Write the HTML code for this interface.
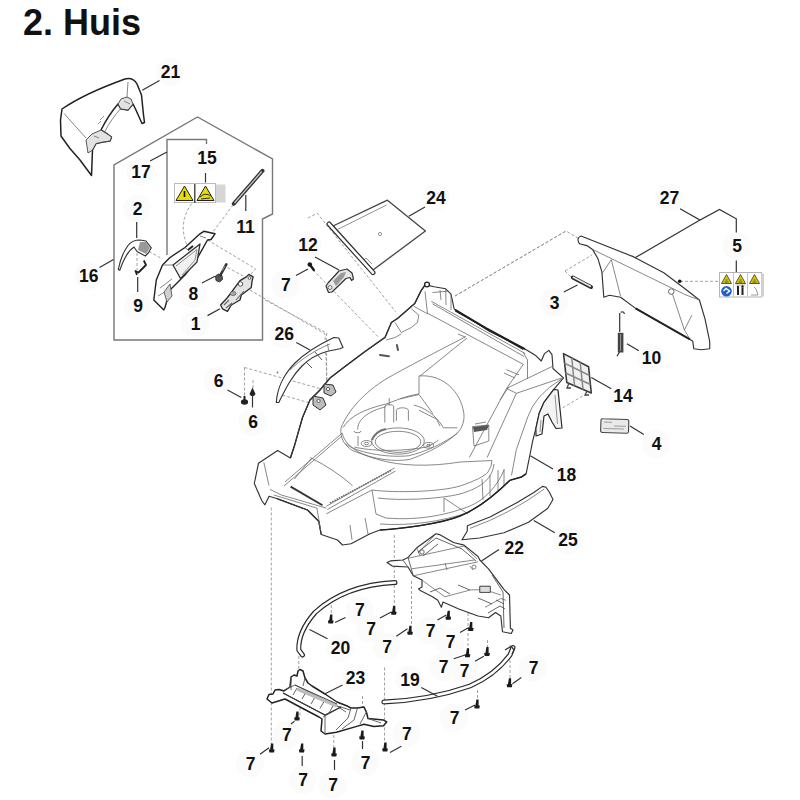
<!DOCTYPE html>
<html><head><meta charset="utf-8"><style>
html,body{margin:0;padding:0;background:#fff;width:800px;height:800px;overflow:hidden}
svg{position:absolute;left:0;top:0}
.o{fill:#fff;stroke:#333;stroke-width:1.15;stroke-linejoin:round}
.og{fill:#d2d2d2;stroke:#2a2a2a;stroke-width:1.2;stroke-linejoin:round}
.i{fill:none;stroke:#6a6a6a;stroke-width:.8}
.k{fill:none;stroke:#2a2a2a;stroke-width:1.3}
.d{fill:none;stroke:#8a8a8a;stroke-width:.8;stroke-dasharray:3 2}
.l{fill:none;stroke:#333;stroke-width:1.2}
.b{fill:none;stroke:#777;stroke-width:1.4}
.bg{fill:#fbfbfb}
text{font-family:"Liberation Sans",sans-serif;font-weight:bold;fill:#111}
.t{font-size:17.5px;text-anchor:middle}
</style></head><body>
<svg width="800" height="800" viewBox="0 0 800 800">
<text x="23" y="35" style="font-size:36px">2. Huis</text>

<!-- label backgrounds -->
<g id="lbg"><circle class="bg" cx="170" cy="72" r="14"/><circle class="bg" cx="206.5" cy="158" r="14"/><circle class="bg" cx="140.5" cy="172" r="14"/><circle class="bg" cx="435.6" cy="197.5" r="14"/><circle class="bg" cx="669" cy="197.5" r="14"/><circle class="bg" cx="137" cy="208.4" r="14"/><circle class="bg" cx="245" cy="226.5" r="14"/><circle class="bg" cx="307.5" cy="244.75" r="14"/><circle class="bg" cx="736.6" cy="246" r="14"/><circle class="bg" cx="88.25" cy="275.75" r="14"/><circle class="bg" cx="285.3" cy="284.3" r="14"/><circle class="bg" cx="192.9" cy="294" r="14"/><circle class="bg" cx="137.5" cy="306" r="14"/><circle class="bg" cx="554" cy="302.4" r="14"/><circle class="bg" cx="195" cy="323.75" r="14"/><circle class="bg" cx="283.75" cy="333.75" r="14"/><circle class="bg" cx="651" cy="358" r="14"/><circle class="bg" cx="218" cy="380.6" r="14"/><circle class="bg" cx="622.5" cy="396" r="14"/><circle class="bg" cx="252.5" cy="422" r="14"/><circle class="bg" cx="656" cy="444" r="14"/><circle class="bg" cx="566" cy="475" r="14"/><circle class="bg" cx="567.5" cy="540" r="14"/><circle class="bg" cx="513.75" cy="547.5" r="14"/><circle class="bg" cx="359.4" cy="610" r="14"/><circle class="bg" cx="370.6" cy="628.75" r="14"/><circle class="bg" cx="386.5" cy="646.5" r="14"/><circle class="bg" cx="430" cy="630.5" r="14"/><circle class="bg" cx="450" cy="642" r="14"/><circle class="bg" cx="340" cy="647.5" r="14"/><circle class="bg" cx="443" cy="667" r="14"/><circle class="bg" cx="464" cy="670.5" r="14"/><circle class="bg" cx="533" cy="668" r="14"/><circle class="bg" cx="355" cy="677.5" r="14"/><circle class="bg" cx="409.4" cy="679.4" r="14"/><circle class="bg" cx="454" cy="718" r="14"/><circle class="bg" cx="286.25" cy="735" r="14"/><circle class="bg" cx="406.25" cy="733.75" r="14"/><circle class="bg" cx="250" cy="763.75" r="14"/><circle class="bg" cx="365" cy="762.5" r="14"/><circle class="bg" cx="302.5" cy="780" r="14"/><circle class="bg" cx="332.5" cy="785" r="14"/></g>

<!-- box 16 -->
<path class="b" d="M114,340 V165 L197.5,117 L272.5,159 V214 L262.5,219 V340 Z"/>
<path class="b" d="M167,255 V139.5 H206.5 V144"/>
<path class="l" d="M150,161 L167,152"/>
<path class="l" d="M99.5,267.5 L113.5,259.5"/>
<path class="l" d="M136.7,222 V238 M137.7,277 V292 M201.9,283 L215,276.3 M207.5,315.6 L220,308.8 M205.5,173 V182.5 M245.8,195 V211"/>

<!-- 21 flap -->
<path class="o" d="M62,109 C78,98 100,88 125,79 Q133,77 137,84 L141.5,95 L143.5,115 L144.5,122.5 L142,123.5 L135.5,109 L133,104 L128,110 L121,109 L118,104 C112,111 106,120 101,130 L108,134.5 L111.5,137 L110,141 L103,142 L96,143.5 L92.5,150 L91.5,175.5 L80,160 L69.5,148 L61,136 L60.5,120 Z" style="stroke:#222;stroke-width:1.5"/>
<path d="M118,104 L121,99 L127,97 L131,99 L133,104 L128,110 L121,109 Z M86,140 L92,134 L101,130 L108,134.5 L111.5,137 L110,141 L103,142 L96,143.5 L92.5,150 L88,153 Z" fill="#e2e2e2" stroke="#444" stroke-width=".9"/>
<path class="i" d="M64,113.5 L86,138 M128,82 L127,97 M121,108 C115,115 109,123 104,133 M94,136 L99,138 M124,101 L130,104"/>
<path d="M100,120 L104,116 M98,124 L101,121" stroke="#777" stroke-width=".8"/>
<path class="l" d="M142.3,90.3 L159.5,80.5"/>
<!-- 15 sticker -->
<rect x="174.5" y="183.5" width="41" height="19" fill="#fff" stroke="#bbb" stroke-width="1"/>
<rect x="216" y="184.5" width="9.5" height="18" fill="#d6d6d6"/>
<path d="M176,200.5 L193,200.5 L184.5,186 Z M197,200.5 L214,200.5 L205.5,186 Z" fill="#e8dc00" stroke="#222" stroke-width="1"/>
<path d="M184.5,191 V197" stroke="#111" stroke-width="1.6"/>
<path d="M194.8,184 V203" stroke="#333" stroke-width="1.3"/>
<path d="M200,197 Q205,192 211,196 M201,199 L210,198" stroke="#333" stroke-width="1" fill="none"/>

<!-- 11 rod -->
<path d="M233.8,203.8 L262.5,170.8" stroke="#333" stroke-width="4" stroke-linecap="round"/>
<path d="M234.5,203 L261.8,171.5" stroke="#ccc" stroke-width="1.2"/>

<!-- dashed in box -->
<path class="d" d="M191.8,203.5 Q178,222 186.5,244 M213.5,231.3 L233,205 M207.5,240 L255.6,268.8 L251,274 M227.5,267.5 L245,277 M149,251.5 L162.5,259 M250,290 L325,334 L327,382 M137,253 V270"/>

<!-- 2 -->
<path class="o" d="M118.3,269.5 Q121,255 128,245.5 Q132,240 140,240 L146,241 L151.3,247.8 L148.3,253 L145.3,256 L137,251.5 L134,247 Q126,252 119.8,270.3 Z"/>
<path d="M140,242 L146,242 L150,248 L146,254 L138,250 Z" fill="#999"/>
<!-- 9 -->
<path d="M143.8,260.5 L146,265 L138.5,272.5 L135.5,271 L137,274.8" fill="none" stroke="#222" stroke-width="1.8" stroke-linejoin="round"/>

<!-- 17 part -->
<path class="o" d="M203.8,231.3 L215,233.8 L211,239.5 L207.5,240 L196.3,260 L185,275 L170,290 L165,307.5 L163.8,310 L153.8,300 L156.3,280 L162.5,265 L170,257.5 L185,247.5 L200,233.8 Z" style="stroke:#222;stroke-width:1.4"/>
<path d="M173,265 L200,244 L197,262 L180.5,278.5 Z" fill="#f2f2f2" stroke="#333" stroke-width="1.3" stroke-linejoin="round"/>
<path d="M176,266 L197,249.5 L195,260 L182,275" fill="none" stroke="#777" stroke-width=".8"/>
<path class="i" d="M160,288 L172,279 M158,296 L168,290 L166,303 M200,236 L206,238 M185,247.5 L190,252 M162.5,265 L173,265"/>
<path d="M164,292 L170,284 L172,296 L167,302 Z" fill="#cfcfcf" stroke="#444" stroke-width=".8"/>
<path d="M188,250 L193,246" stroke="#222" stroke-width="2"/>
<!-- 8 -->
<path d="M215.5,276 L218.5,274 L222,275.5 L222.5,279.5 L219.5,282 L216,280.5 Z" fill="#555" stroke="#222" stroke-width=".8"/>
<path d="M226.3,264.4 L220.5,275" stroke="#333" stroke-width="2.6" stroke-linecap="round"/>
<path d="M225,266 L222,271" stroke="#aaa" stroke-width=".8"/>

<!-- 1 -->
<path d="M220.6,305 L227.5,297.5 L240,280.6 L246.3,276.9 L248.8,274.4 L253.1,276.9 L251.9,281.9 L251.3,287.5 L246.3,291.3 L241.3,295 L240,300 L231.3,305 L227.5,311.3 L222.5,308.8 Z" fill="#e4e4e4" stroke="#2a2a2a" stroke-width="1.3" stroke-linejoin="round"/>
<circle cx="240.5" cy="284" r="2.2" fill="#fff" stroke="#444" stroke-width=".9"/>
<circle cx="249.5" cy="278" r="1.4" fill="#fff" stroke="#444" stroke-width=".8"/>
<ellipse cx="233" cy="293.5" rx="3" ry="2" fill="#aaa" stroke="#555" stroke-width=".7"/>
<path d="M224,305 L229,300 M236,300 L244,291 M226,308 L232,303" stroke="#666" stroke-width="1.1" fill="none"/>

<!-- 24 plate -->
<path class="d" d="M307.8,218 L317.3,213.3 L395.7,311.8 M313,270 L378.6,337.4"/>
<path d="M333,226 L387.4,200.2 L425.4,231 L373,270 Z" fill="#fff" stroke="#444" stroke-width="1.3" stroke-linejoin="round"/>
<path d="M337.5,229.5 L386.5,205 M372,264 L366,258 L362,262" fill="none" stroke="#777" stroke-width=".8"/>
<circle cx="380" cy="234" r="1.6" fill="none" stroke="#888" stroke-width=".9"/>
<path d="M329,224 L373,272.6" stroke="#333" stroke-width="5" stroke-linecap="round"/>
<path d="M329,224 L373,272.6" stroke="#fff" stroke-width="2.6" stroke-linecap="round"/>
<path class="l" d="M425,207 L408.8,216.3"/>
<!-- 12 -->
<path d="M326,286 L328,283 L339,271 L347,269 L352,273 L353.5,279 L351.5,280.5 L350,277.5 L346,278.5 L332,292 L328.5,292.5 Z" fill="#e8e8e8" stroke="#333" stroke-width="1.2" stroke-linejoin="round"/><path d="M333,281 L341,273 L346,272 L344,277 L336,286 Z" fill="#999"/>

<circle cx="330" cy="287.5" r="2" fill="none" stroke="#555" stroke-width=".8"/>
<path d="M310.5,265.5 L313.8,270" stroke="#1a1a1a" stroke-width="2.4" stroke-linecap="round"/><circle cx="309.8" cy="264.5" r="2.3" fill="#1a1a1a"/>
<path class="l" d="M315,257 L339,270 M296,275.5 L308,269"/>

<!-- 27 panel -->
<path class="d" d="M455,296 L566,231 L578,238 M565,271 L592,255 M565,271 L572,278 M680,281.3 L718,281.3 M582.5,396 L561,408.8"/>
<path class="o" d="M579.4,243.8 Q576,238 581,236 L633.8,256.9 L663.8,272.8 L686.3,289.7 L699.4,300 L705,318.8 L709.7,341.3 L709.7,348.8 L701.3,349.7 L693.8,348.8 L692.8,341.3 L690,339.4 L635.6,308.4 L620.6,297.2 L609.4,295.3 L603.8,297.2 L601.9,271.9 L598,258.8 L592.5,249.4 L586.9,245.6 Z"/>
<path class="i" d="M592.5,249.4 L686,295 L699.4,300 M611.3,259.7 L620.6,296.3 M601.9,273.8 L611.3,259.7 M671.3,290.6 L684.4,330 L691.9,315 M684.4,330 L690,339.4"/>
<path d="M635.6,308.4 L690,339.4" stroke="#222" stroke-width="1.8"/>
<circle cx="671.3" cy="291.6" r="2.8" fill="#fff" stroke="#555" stroke-width=".9"/>
<circle cx="679.7" cy="281.3" r="1.8" fill="#111"/>
<path class="l" d="M680,208.8 L700,220 L719.5,209.5 L736.3,218.8 V232.5 M700,220 L635,257.8"/>
<path class="l" d="M736.3,260.5 V272.5"/>
<!-- 5 sticker -->
<rect x="719.5" y="272.5" width="42" height="24.5" fill="#fff" stroke="#b8b0b8" stroke-width="1"/>
<rect x="761" y="273.5" width="3" height="23" fill="#d0d0d0"/>
<path d="M733.5,273 V296.5 M747.5,273 V296.5" stroke="#bbb" stroke-width=".9"/>
<path d="M721.5,283.5 L731.5,283.5 L726.5,274.5 Z M735.5,283.5 L745.5,283.5 L740.5,274.5 Z M749.5,283.5 L759.5,283.5 L754.5,274.5 Z" fill="#d8cc00" stroke="#333" stroke-width=".8"/>
<path d="M725.5,280 h2 M739.5,280 h2 M753.5,280 h2 M724.5,282 h4 M738.5,282 h4 M752.5,282 h4" stroke="#555" stroke-width="1"/>
<path d="M735.5,285 h10" stroke="#888" stroke-width=".6"/>
<circle cx="726.5" cy="291.3" r="5.3" fill="#1f5fd0"/>
<path d="M723.5,291 L726,288.5 L729.5,291 L726.5,293.5" stroke="#fff" stroke-width="1.4" fill="none"/>
<path d="M738,288 V295 M742.5,287.5 V295" stroke="#222" stroke-width="2"/>
<circle cx="738" cy="287" r="1.2" fill="#222"/><circle cx="742.5" cy="286.5" r="1.2" fill="#222"/>
<path d="M751,295 L758,295 L756,289 L754,287" stroke="#999" stroke-width="1" fill="none"/>
<!-- 3 pin -->
<path d="M572.8,277.5 L591,287" stroke="#2a2a2a" stroke-width="4" stroke-linecap="round"/>
<path d="M573.3,277.3 L590.3,286.3" stroke="#e8e8e8" stroke-width="1.6" stroke-linecap="round"/>
<path class="l" d="M563.8,292 L577.5,285"/>
<!-- 10 spring -->
<path d="M620.6,312.2 Q624,311 624.4,314 M619.7,313 V332 M619.5,352 L617,356.3" stroke="#333" stroke-width="1.2" fill="none"/>
<rect x="617.8" y="332.8" width="5.6" height="19.7" fill="#444"/>
<path d="M620.6,334 V351" stroke="#999" stroke-width="1"/>
<path class="l" d="M627,343.8 L638.8,350.8"/>
<!-- 14 grill -->
<path d="M563.5,353.6 L588.6,366.8 L591.3,393 L566.8,382.5 Z" fill="#f0f0f0" stroke="#3a3a3a" stroke-width="1.6" stroke-linejoin="round"/>
<path d="M571.8,358 L574.5,385.7 M580.2,362.3 L583,389.3 M564.5,363.2 L589.5,375.5 M565.6,373 L590.5,384.5" stroke="#888" stroke-width="1.5"/>
<path d="M569,383 L567,388 L571,388 M587,391 L585,395 L589,395" stroke="#444" stroke-width="1.3" fill="none"/>
<path class="l" d="M591.3,377.5 L611.3,388.8"/>
<!-- 4 tag -->
<path d="M601,420 Q601,418.5 603,418.7 L627,419.5 Q629,419.7 628.8,421.5 L628.5,431.5 Q628.4,433.3 626.5,433.2 L602.5,432.5 Q600.5,432.4 600.6,430.5 Z" fill="#e9e9e9" stroke="#444" stroke-width="1.1"/>
<path d="M604,422 L612,422.4 M603.5,428.5 L624,429 M614,426 L626,426.3" stroke="#888" stroke-width=".8"/>
<path class="l" d="M630,426 L643.8,434.5"/>

<!-- 18 housing -->
<path class="d" d="M455,296 L566,231 M271.3,507.5 V752 M331.3,600 V613 M394.3,535 V605 M411.5,581 V626 M298.8,656 V670 M300,707.5 V717.5 M333.8,715 V748 M362.5,696 V707.5 M384.5,667.5 V745 M468,608 V650 M487.5,640 V652 M510,645 V680 M477.5,690 V702 M244.5,367.5 V398.8 M244.5,367.5 L325,390 M277.5,393.8 L310,403 M253,380 V388 M265,300 L326.6,333 V384"/>
<path class="o" d="M425.4,284.6 L434,286.7 L445.7,288.8 L451,294.1 L454.2,309 L489.3,331.3 L523.3,348.3 L527.5,350.4 L536,355.8 L541.3,361 L544.5,353.6 L548.8,350.4 L552,354.7 L553,368.5 L563.5,377.9 L553.8,389.3 L544,402.3 L539.1,413.6 L535.9,428.3 L532.6,441.3 L529.4,457.5 L526.1,473.8 L521.3,477 L509.9,480.3 C500,490 480,508 460,516 C440,524 400,529 380,530 L370,533.8 L351,543.8 L342.5,545 L337.5,540 L321.2,534.5 L318.8,521.3 L307.5,510 L277.5,498.8 L269.1,496.3 L264.9,504.8 L261.7,500.5 L254.3,483.5 L258.5,463.3 L277.6,450.6 L290.4,458 L294.6,445.3 L297.5,435 L302.5,417.5 L310,400 L320,390 L330,378 L345,366.5 L364,352.3 L385,337.4 L391.4,322.5 L397.8,318.3 L414.8,303.4 L421.1,290.6 Z"/>
<path d="M290.4,458 L294.6,445.3 L297.5,435 L302.5,417.5 L310,400 L320,390 L330,378 L345,366.5 L364,352.3 L385,337.4 L391.4,322.5 L397.8,318.3 L414.8,303.4 L421.1,290.6 L425.4,284.3 M277.5,498.8 L307.5,510 L318.8,521.3 L321.2,534.5" fill="none" stroke="#333" stroke-width="1.3" stroke-linejoin="round"/>
<path d="M455.1,309.8 L486,328 L525,349" fill="none" stroke="#1a1a1a" stroke-width="1.7"/>
<g class="i">
<path d="M431.3,301.3 L525.4,353.6 M432.5,303.8 L524,356.5 M427.6,313.3 L523.3,364.3 M445.7,289 L446,305 M451,294 L451,310 M523.3,352.6 L527.5,360 V379"/>
<path d="M411.3,308.8 L418.8,315 L417.5,322.5 L411.3,327.5 L401.3,332.5 L395,322.5 M386.3,340 L395,337.5 L401.3,333.8 M413.8,306.3 L427.5,313.8 M425,291.3 L427.5,313.8 M467,338 L420,376 M432.5,292.5 L447.5,291.3 M440,290 L441,300"/>
<path d="M506.6,388.4 L552.1,366.5 M516.4,393.3 L561.9,377.9 M506.6,388.4 L516.4,393.3 M506.6,388.4 L469.3,457.5 M516.4,393.3 L487.1,457.5 M523.3,364.3 L506.6,388.4 M499.9,400 L508.4,387.6"/>
<path d="M561.9,378.7 Q535,395 527.8,416.9 L516.4,449.4 L511.5,475.4"/>

<path d="M341,428 C340,438 344,445 352.5,450.5 C375,460 395,462 410.3,459.3 C430,452 445,444 457.5,433 C462,428 466,420 463,408.8 C458,388 440,374 419,376 V394 C405,396 395,401 386,404 C365,409 350,416 343,427.5"/>
<path d="M345.5,443.5 C355,452 385,458 408.5,455.8 C425,452 445,443 457.5,433"/>
<path d="M357.8,429.5 C357,420 368,411 385.8,406.8 M413.8,405 C425,408 435,414 443.5,427.8 L457.5,427.8 M354.3,447 C370,451 400,452 426,447 C432,445 436,442 438.3,440"/>
<ellipse cx="398" cy="441.8" rx="22.8" ry="10.5"/>
<ellipse cx="398" cy="441" rx="26.3" ry="13.1"/>
<path d="M372,440 C374,434 380,430 386,429" stroke-width="2.2" stroke="#777"/>
<path d="M384.8,422.5 V406.8 M393.7,422.5 V406.8 M384.8,406.8 A4.4,2 0 0 1 393.7,406.8 M396.4,420.8 V410.3 M408.4,420.8 V410.3 M396.4,410.3 A6,2.5 0 0 1 408.4,410.3 M389.2,405 V398 M399.8,398.9 L419,394.5 L433,413.8 M419,410.3 L436.5,419 L440,426"/>
<ellipse cx="366.5" cy="443.5" rx="5.3" ry="3"/><ellipse cx="366.5" cy="443.5" rx="2.2" ry="1.2"/>
<path d="M358,436 V446 M361,431 A3,1.5 0 0 1 354,431"/>
<ellipse cx="428.6" cy="445.3" rx="5" ry="2.8"/><ellipse cx="428.6" cy="445.3" rx="2" ry="1"/>
<path d="M466,336.5 C440,350 405,368 386,379 C365,392 348,410 341,428"/>
<path d="M472.5,426.6 L488.8,425 L488.8,441 L474,446 Z M475,424 L486,422"/>
<path d="M285,481.9 L342.2,433.1 M284,486 L341.3,436.5 M326.3,506.3 L394.7,467.8 M327.3,509.5 L395.5,471"/>
<path d="M310.3,457.5 Q335,470 352.5,485.6 M294.4,479 L311.3,458.4"/>
<path d="M342.2,433.1 C345,446 360,455 380,460 C400,466 430,467 460,462 L492,460.5"/>
<path d="M270,489.4 L281.3,495 L326.3,508.1 M326.3,513.8 L372,490 C395,493 440,492 460,486 C475,481 485,476 488,472 Q492,466 492,460.5 M378,498 C400,501 440,499 460,494 C480,488 492,480 494,464 M372,490 L376,514 L386,518 C420,521 450,514 470,506 C485,500 498,485 504,470 M380,524 C410,526 440,522 470,512"/>
<path d="M498,470 V492 M504,469 V486 M444,498 L468,514 M444,498 V512"/>
<path d="M263.8,462.3 L269,485.6 M273.8,495 L316.9,508.1 L320.6,530"/>
<path d="M350,525 L352,540 M365,518 L368,534 M482,479 L483,500 M490,475 L490,496"/>
<path d="M465,337 L458,334 M506.3,369.6 L519,374.9 M504,373 L515,378"/>

</g>
<path d="M290.6,486.6 L322.5,505.3" fill="none" stroke="#333" stroke-width="1.8"/>
<path d="M330,503 L392,470" fill="none" stroke="#666" stroke-width="1.5" stroke-dasharray="1.5 1"/>
<path d="M455.3,311.1 L523.3,349.4" fill="none" stroke="#222" stroke-width="1.2"/>
<circle cx="427" cy="284.5" r="2.4" fill="#fff" stroke="#222" stroke-width="1.3"/>
<path d="M396.9,345 L398,350 M380,355 L388.8,356.3" stroke="#555" stroke-width="2" stroke-linecap="round"/>
<path d="M380,530 C400,529 440,524 460,516 C480,508 500,490 509.9,480.3 L521.3,477 L526.1,473.8" fill="none" stroke="#222" stroke-width="1.4"/>
<path class="l" d="M530.3,455.8 L553,468.9"/>
<path d="M553.8,389.3 L558,390 L562,428 L556,428.5 L552,422 L548,414 L544,416 L542,434 L536,436 L535.9,428.3 L539.1,413.6 L544,402.3 Z" fill="#f4f4f4" stroke="#2a2a2a" stroke-width="1.2" stroke-linejoin="round"/>
<path d="M555,395 L557.5,424 M541,420 L540,432" stroke="#777" stroke-width=".8" fill="none"/>
<path d="M473,427 L489,425 L487,430 L474,432 Z" fill="#555"/>
<path d="M324,384 L333,385 L336,392 L331,396 L324,393 Z M313,396 L323,398 L326,405 L320,410 L313,405 Z" fill="#bdbdbd" stroke="#333" stroke-width="1"/>
<circle cx="328" cy="389" r="1.6" fill="#fff" stroke="#333" stroke-width=".7"/><circle cx="318.5" cy="401" r="1.6" fill="#fff" stroke="#333" stroke-width=".7"/>
<!-- 6 screws -->
<ellipse cx="244.5" cy="402" rx="3.6" ry="2.8" fill="#222"/><path d="M243.5,396 h2 v4 h-2 Z" fill="#222"/>
<path d="M249.5,394 L252.5,387.5 L255.5,394 L254,396 L251,396 Z" fill="#222"/>
<path d="M252.5,394 V407.5" stroke="#333" stroke-width="1.2"/>
<path class="l" d="M227.5,390 L241.3,397.5"/>
<!-- 26 strip -->
<path class="o" d="M276.3,402.5 C277,390 283,375 295,363 C305,353 318,345 333.8,337.5 L338.8,338 L343,347.5 L340,348.8 L327.5,351.3 C318,354 310,358 302,366 C292,376 286,388 280,400 L278.8,402.5 Z"/>
<path class="i" d="M327.5,343.8 L328.8,351.3 M290,370 C300,360 315,350 330,344"/>
<path d="M315,352 L322,360 M306,362 L312,368" stroke="#555" fill="none" stroke-width="1"/>
<path class="l" d="M296.3,342.5 L310,350"/>
<!-- 25 strip -->
<path class="o" d="M467.3,525.8 L490,517 L516.3,503 L533.8,492.5 L542.5,486.4 L546,487.3 L549.5,492.5 L553,499.5 L547.8,508.3 L528.5,522.3 L504,532.8 L479.5,538 L462,539.8 L467.3,531 Z"/>
<path class="i" d="M469.9,528.4 Q510,514 544.3,489"/>
<path class="l" d="M533.8,520.5 L554.8,532.8"/>

<!-- 22 -->
<path class="o" d="M387,562.6 L390.5,560.9 L402.8,560 L408,557.4 L416.8,547.8 L436,533.8 L439.5,534.6 L453.5,542.5 L464,545.1 L478,556.5 L479.8,560 L488.5,568.8 L499,582.8 L504.3,589.8 L509.5,595 L510.4,628.3 L513,630 L511.3,633.5 L502.5,631.8 L500.8,616 L495.5,612.5 L488.5,617.8 L478,616 L458.8,609 L443,602 L441.3,607.3 L437.8,600.3 L432.5,596.8 L420.3,590.6 L418.5,588.9 L422,587.1 L422,580.1 L413.3,575.8 L408,567 L392.3,566.1 Z"/>
<g class="i">
<path d="M408,558.3 L464,546 L477,559.1 M413.3,575.8 L478,561.8 M411.5,568.8 L474.5,560 M444.8,596.8 L471,589.8 L485,589.8 L500.8,595 M485,607.3 L500.8,598.5 L506,600.3 M479.8,586.3 H490.3 V592.4 H479.8 Z M422,580.1 L444.8,596.8 M416.8,547.8 L420,556 M436,533.8 L418,553 M445,563 L447,570 M470,566 L473,570"/>
<circle cx="474" cy="567" r="2"/>
</g>
<path class="l" d="M481.5,560.9 L499,549.5"/>
<g fill="none" stroke="#555" stroke-width=".9">
<path d="M418,552 L436,538 L462,549 L476,561 M423,556 L438,544 M492,575 L503,592 L504,628 M496,600 L504,604 M488,613 L500,606 L505,609 M478,598 L492,604 M458,585 L470,590 M402.8,560 L408,567 M408,557.4 L413.3,575.8 M430,592 L440,588 L450,594"/>
</g>
<path d="M479.8,586.3 H490.3 V592.4 H479.8 Z" fill="#ddd" stroke="#444" stroke-width=".9"/>
<circle cx="422" cy="552" r="2.2" fill="#fff" stroke="#555" stroke-width=".9"/>

<!-- 20 strip -->
<path d="M395,582.5 Q345,585 315,612.5 Q298,632 298.8,650 L302.5,655" fill="none" stroke="#2a2a2a" stroke-width="5" stroke-linecap="round"/>
<path d="M395,582.5 Q345,585 315,612.5 Q298,632 298.8,650 L302.5,655" fill="none" stroke="#fff" stroke-width="2.6" stroke-linecap="round"/>
<path class="l" d="M309.5,629.5 L327.5,638.8"/>
<!-- 19 strip -->
<path d="M383.8,702 Q430,700 470,686 Q495,675 510,655 L513,647.5" fill="none" stroke="#2a2a2a" stroke-width="5" stroke-linecap="round"/>
<path d="M383.8,702 Q430,700 470,686 Q495,675 510,655 L513,647.5" fill="none" stroke="#fff" stroke-width="2.6" stroke-linecap="round"/>
<path d="M505,650 L511.3,646.3 L514,650 L512,654" fill="none" stroke="#333" stroke-width="1.3"/>
<path class="l" d="M421.3,687.5 L437.5,696.3"/>
<!-- 23 -->
<path d="M267,699 L269,694.5 L273,694 L275,690 L279,689.5 L284,691 L290,687 L291,677 L294,675 L297,676 L298,671 L300,669.5 L303,671 L305,678 L308,683 L312,686 L325,694 L337,702 L347.8,706.3 L351,708 L357.5,708 L364,707.1 L366.4,712 L368,718.5 L383.5,720.1 L386.8,721.8 L383.5,725.8 L373.8,726.6 L364,724.2 L355.9,726.6 L336.4,732.3 L325,734 L321,731 L322,719 L319,717 L300,707 L285,699 L272,703 Z" fill="#fff" stroke="#222" stroke-width="1.5" stroke-linejoin="round"/>
<g fill="none" stroke="#555" stroke-width=".9">
<path d="M295,685 L337,706 L346,712 M283,693 L325,715 M284,690 L295,685 M291,677 L291,690 M305,678 L303,686 M297,688 L293,695 M306,692 L302,699 M315,697 L311,704 M324,701.5 L320,708.5 M333,706 L329,713 M323,717 L341,707 L350,710 M337,706 L341,707 M351,708 L348,718 L336,730 M357.5,708 L354,720 L342,729 M366.4,712 L360,724 M368,718.5 L381,723 M325,715 L325,734"/>
</g>
<path d="M283,693 L325,715 L341,707" fill="none" stroke="#333" stroke-width="1.3"/>
<path d="M297,689 L337,706" fill="none" stroke="#bbb" stroke-width="3"/>
<path d="M295,685 L337,704" fill="none" stroke="#444" stroke-width="1"/>
<path class="l" d="M325,693.8 L342.5,685"/>
<!-- 7 screws -->
<g fill="#1a1a1a"><path d="M330.15,614.5 h2.2 v6 h1.3 l-.6,3 h-4.6 l-.6,-3 h1.3 Z"/><path d="M393.15,605.75 h2.2 v6 h1.3 l-.6,3 h-4.6 l-.6,-3 h1.3 Z"/><path d="M409.4,625.75 h2.2 v6 h1.3 l-.6,3 h-4.6 l-.6,-3 h1.3 Z"/><path d="M447.65,610.75 h2.2 v6 h1.3 l-.6,3 h-4.6 l-.6,-3 h1.3 Z"/><path d="M470.15,622.0 h2.2 v6 h1.3 l-.6,3 h-4.6 l-.6,-3 h1.3 Z"/><path d="M466.9,648.25 h2.2 v6 h1.3 l-.6,3 h-4.6 l-.6,-3 h1.3 Z"/><path d="M486.4,647.0 h2.2 v6 h1.3 l-.6,3 h-4.6 l-.6,-3 h1.3 Z"/><path d="M508.9,678.25 h2.2 v6 h1.3 l-.6,3 h-4.6 l-.6,-3 h1.3 Z"/><path d="M476.4,699.5 h2.2 v6 h1.3 l-.6,3 h-4.6 l-.6,-3 h1.3 Z"/><path d="M296.4,711.5 h2.2 v6 h1.3 l-.6,3 h-4.6 l-.6,-3 h1.3 Z"/><path d="M271.09999999999997,743.5 h2.2 v6 h1.3 l-.6,3 h-4.6 l-.6,-3 h1.3 Z"/><path d="M301.09999999999997,743.5 h2.2 v6 h1.3 l-.6,3 h-4.6 l-.6,-3 h1.3 Z"/><path d="M333.4,747.5 h2.2 v6 h1.3 l-.6,3 h-4.6 l-.6,-3 h1.3 Z"/><path d="M361.4,730.5 h2.2 v6 h1.3 l-.6,3 h-4.6 l-.6,-3 h1.3 Z"/><path d="M384.4,742.5 h2.2 v6 h1.3 l-.6,3 h-4.6 l-.6,-3 h1.3 Z"/></g>
<g fill="none" stroke="#333" stroke-width="1.2">
<path d="M335,622.5 L345.5,617.5 M380,618 L391.3,612 M396.3,636.3 L407.5,628.8 M437.5,620 L446.3,615 M460,632.5 L468.8,627.5 M453.8,658.8 L465,655 M475,661.3 L483.8,656.3 M512.5,683.8 L521.3,677.5 M465,710 L475,705 M260,754.3 L269,747.8 M302.2,756 V766 M334.5,760 V770 M362.5,741 V749 M390,752.5 L401.3,746.3 M294.5,721.3 L291,724"/>
</g>
<circle cx="277.5" cy="372.5" r=".9" fill="#777"/>
<!--PARTS-->
<g id="labels">
<text class="t" x="170.5" y="78.3">21</text>
<text class="t" x="207.0" y="164.3">15</text>
<text class="t" x="141.0" y="178.3">17</text>
<text class="t" x="436.1" y="203.8">24</text>
<text class="t" x="669.5" y="203.8">27</text>
<text class="t" x="137.5" y="214.70000000000002">2</text>
<text class="t" x="245.5" y="232.8">11</text>
<text class="t" x="308.0" y="251.05">12</text>
<text class="t" x="737.1" y="252.3">5</text>
<text class="t" x="88.75" y="282.05">16</text>
<text class="t" x="285.8" y="290.6">7</text>
<text class="t" x="193.4" y="300.3">8</text>
<text class="t" x="138.0" y="312.3">9</text>
<text class="t" x="554.5" y="308.7">3</text>
<text class="t" x="195.5" y="330.05">1</text>
<text class="t" x="284.25" y="340.05">26</text>
<text class="t" x="651.5" y="364.3">10</text>
<text class="t" x="218.5" y="386.90000000000003">6</text>
<text class="t" x="623.0" y="402.3">14</text>
<text class="t" x="253.0" y="428.3">6</text>
<text class="t" x="656.5" y="450.3">4</text>
<text class="t" x="566.5" y="481.3">18</text>
<text class="t" x="568.0" y="546.3">25</text>
<text class="t" x="514.25" y="553.8">22</text>
<text class="t" x="359.9" y="616.3">7</text>
<text class="t" x="371.1" y="635.05">7</text>
<text class="t" x="387.0" y="652.8">7</text>
<text class="t" x="430.5" y="636.8">7</text>
<text class="t" x="450.5" y="648.3">7</text>
<text class="t" x="340.5" y="653.8">20</text>
<text class="t" x="443.5" y="673.3">7</text>
<text class="t" x="464.5" y="676.8">7</text>
<text class="t" x="533.5" y="674.3">7</text>
<text class="t" x="355.5" y="683.8">23</text>
<text class="t" x="409.9" y="685.6999999999999">19</text>
<text class="t" x="454.5" y="724.3">7</text>
<text class="t" x="286.75" y="741.3">7</text>
<text class="t" x="406.75" y="740.05">7</text>
<text class="t" x="250.5" y="770.05">7</text>
<text class="t" x="365.5" y="768.8">7</text>
<text class="t" x="303.0" y="786.3">7</text>
<text class="t" x="333.0" y="791.3">7</text>
</g>
</svg>
</body></html>
